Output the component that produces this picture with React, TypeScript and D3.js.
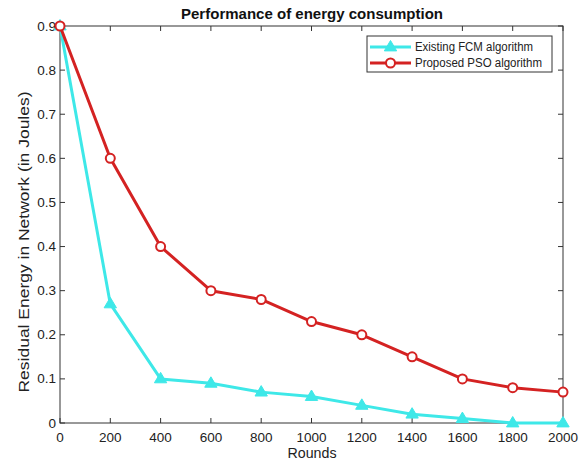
import * as d3 from "d3";
import React from "react";

const rounds = [0, 200, 400, 600, 800, 1000, 1200, 1400, 1600, 1800, 2000];
const fcm = [0.9, 0.27, 0.1, 0.09, 0.07, 0.06, 0.04, 0.02, 0.01, 0, 0];
const pso = [0.9, 0.6, 0.4, 0.3, 0.28, 0.23, 0.2, 0.15, 0.1, 0.08, 0.07];
const xTicks = [0, 200, 400, 600, 800, 1000, 1200, 1400, 1600, 1800, 2000];
const yTicks = [0, 0.1, 0.2, 0.3, 0.4, 0.5, 0.6, 0.7, 0.8, 0.9];

const W = 581;
const H = 464;
const L = 60, R = 563, T = 26, B = 423;
const CYAN = "#3ee8e8";
const RED = "#d42222";
const AX = "#333";
const FONT = "'Liberation Sans', Arial, sans-serif";

const App = () => {
  const x = d3.scaleLinear().domain([0, 2000]).range([L, R]);
  const y = d3.scaleLinear().domain([0, 0.9]).range([B, T]);
  const line = d3
    .line<number>()
    .x((_, i) => x(rounds[i]))
    .y((d) => y(d));

  const tri = (cx: number, cy: number, s: number) =>
    `M${cx},${cy - s}L${cx + s * 0.95},${cy + s * 0.6}L${cx - s * 0.95},${cy + s * 0.6}Z`;

  return (
    <svg
      width={W}
      height={H}
      style={{ position: "absolute", left: 0, top: 0, background: "#fff" }}
      fontFamily={FONT}
    >
      <rect x={0} y={0} width={W} height={H} fill="#fff" />
      {/* frame */}
      <rect x={L} y={T} width={R - L} height={B - T} fill="none" stroke={AX} strokeWidth={1} />
      {xTicks.map((t) => (
        <g key={"x" + t}>
          <line x1={x(t)} x2={x(t)} y1={B} y2={B - 5} stroke={AX} />
          <line x1={x(t)} x2={x(t)} y1={T} y2={T + 5} stroke={AX} />
          <text x={x(t)} y={B + 19} textAnchor="middle" fontSize={13.5} fill="#222">
            {t}
          </text>
        </g>
      ))}
      {yTicks.map((t) => (
        <g key={"y" + t}>
          <line x1={L} x2={L + 5} y1={y(t)} y2={y(t)} stroke={AX} />
          <line x1={R} x2={R - 5} y1={y(t)} y2={y(t)} stroke={AX} />
          <text x={L - 4} y={y(t) + 4.5} textAnchor="end" fontSize={13.5} fill="#222">
            {t === 0 ? "0" : t.toFixed(1)}
          </text>
        </g>
      ))}
      <text x={312} y={19} textAnchor="middle" fontSize={14} fontWeight="bold" fill="#111"
        textLength={262} lengthAdjust="spacingAndGlyphs">
        Performance of energy consumption
      </text>
      <text x={312} y={458} textAnchor="middle" fontSize={14} fill="#222"
        textLength={49} lengthAdjust="spacingAndGlyphs">
        Rounds
      </text>
      <text
        transform={`translate(29,242) rotate(-90)`}
        textAnchor="middle"
        fontSize={14}
        fill="#222"
        textLength={301}
        lengthAdjust="spacingAndGlyphs"
      >
        Residual Energy in Network (in Joules)
      </text>

      {/* series */}
      <path d={line(fcm) || undefined} fill="none" stroke={CYAN} strokeWidth={3} strokeLinejoin="round" />
      {fcm.map((v, i) => (
        <path key={"f" + i} d={tri(x(rounds[i]), y(v), 6.5)} fill={CYAN} stroke={CYAN} strokeWidth={1} />
      ))}
      <path d={line(pso) || undefined} fill="none" stroke={RED} strokeWidth={3} strokeLinejoin="round" />
      {pso.map((v, i) => (
        <circle key={"p" + i} cx={x(rounds[i])} cy={y(v)} r={4.5} fill="#fff" stroke={RED} strokeWidth={2} />
      ))}

      {/* legend */}
      <rect x={367} y={36} width={185} height={36} fill="#fff" stroke={AX} strokeWidth={1} />
      <line x1={370} x2={411} y1={47} y2={47} stroke={CYAN} strokeWidth={3} />
      <path d={tri(390.5, 47, 6.5)} fill={CYAN} stroke={CYAN} />
      <text x={415} y={51} fontSize={12} fill="#222" textLength={118} lengthAdjust="spacingAndGlyphs">
        Existing FCM algorithm
      </text>
      <line x1={370} x2={411} y1={63} y2={63} stroke={RED} strokeWidth={3} />
      <circle cx={390.5} cy={63} r={4.5} fill="#fff" stroke={RED} strokeWidth={2} />
      <text x={415} y={67} fontSize={12} fill="#222" textLength={127} lengthAdjust="spacingAndGlyphs">
        Proposed PSO algorithm
      </text>
    </svg>
  );
};

export default App;
